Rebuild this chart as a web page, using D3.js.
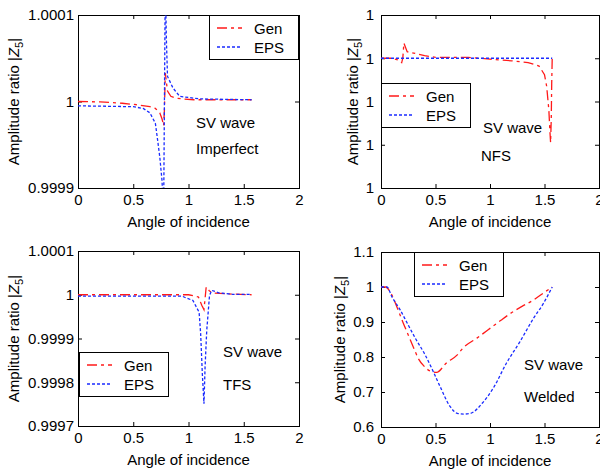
<!DOCTYPE html>
<html>
<head>
<meta charset="utf-8">
<script src="https://cdn.jsdelivr.net/npm/d3@7"></script>
<style>
  html, body { margin: 0; padding: 0; background: #fff; }
  svg { display: block; font-family: "Liberation Sans", Arial, sans-serif; }
</style>
</head>
<body>
<svg id="chart" width="600" height="471"></svg>
<script>
// Incidence angle axis (radians)
const angleTicks = [0, 0.5, 1, 1.5, 2];

// SV wave, imperfect interface
const imperfectGenX = [0, 0.2, 0.4, 0.55, 0.65, 0.7, 0.74, 0.76, 0.775, 0.782, 0.79, 0.81, 0.84, 0.88, 0.95, 1.05, 1.2, 1.4, 1.5708];
const imperfectGenY = [1.0, 0.9999995, 0.999998, 0.999996, 0.999994, 0.999992, 0.999987, 0.99998, 0.999972, 0.99999, 1.000033, 1.000012, 1.000006, 1.000004, 1.000003, 1.000002, 1.000002, 1.000002, 1.000002];
const imperfectEpsX = [0, 0.5, 0.59, 0.65, 0.7, 0.72, 0.74, 0.76, 0.775, 0.79, 0.8, 0.81, 0.86, 0.92, 1.1, 1.5708];
const imperfectEpsY = [0.999995, 0.999994, 0.999992, 0.999987, 0.999975, 0.999956, 0.999936, 0.999909, 0.99987, 1.00014, 1.000071, 1.000029, 1.0000155, 1.000006, 1.000003, 1.000002];
const imperfectTicks = [0.9999, 1, 1.0001];

// SV wave, normal force stiffness
const nfsGenX = [0, 0.1, 0.17, 0.19, 0.2, 0.21, 0.24, 0.3, 0.4, 0.5, 0.8, 1.0, 1.2, 1.35, 1.45, 1.5, 1.52, 1.54, 1.55, 1.556, 1.562, 1.566, 1.5708];
const nfsGenY = [1.000003, 1.000003, 1.00000295, 1.0000029, 1.000003, 1.00000335, 1.00000315, 1.00000312, 1.00000306, 1.00000302, 1.00000302, 1.00000298, 1.00000294, 1.0000029, 1.00000282, 1.00000262, 1.00000235, 1.0000018, 1.0000013, 1.00000105, 1.0000016, 1.0000024, 1.000003];
const nfsEpsX = [0, 0.5, 1.0, 1.5, 1.55, 1.5708];
const nfsEpsY = [1.000003, 1.000003, 1.000003, 1.000003, 1.000003, 1.000003];
const nfsTicks = [1, 1.000001, 1.000002, 1.000003, 1.000004];

// SV wave, transverse force stiffness
const tfsGenX = [0, 0.5, 1.0, 1.09, 1.12, 1.14, 1.16, 1.19, 1.23, 1.4, 1.5708];
const tfsGenY = [1.0, 1.0, 1.0, 0.999995, 0.999976, 0.999966, 1.0000175, 1.0000084, 1.000004, 1.0000015, 1.0];
const tfsEpsX = [0, 0.5, 0.94, 0.98, 1.04, 1.096, 1.11, 1.125, 1.14, 1.15, 1.165, 1.19, 1.21, 1.28, 1.4, 1.5708];
const tfsEpsY = [0.999997, 0.999997, 0.999997, 0.9999925, 0.999987, 0.99996, 0.999911, 0.99982, 0.999751, 0.999835, 0.999918, 0.999998, 1.00001, 1.000004, 1.000001, 1.000001];
const tfsTicks = [0.9997, 0.9998, 0.9999, 1, 1.0001];

// SV wave, welded contact
const weldedGenX = [0, 0.04, 0.1, 0.15, 0.2, 0.25, 0.3, 0.34, 0.4, 0.45, 0.51, 0.6, 0.7, 0.75, 0.88, 0.98, 1.1, 1.2, 1.29, 1.4, 1.5, 1.5708];
const weldedGenY = [1.0, 1.0, 0.977, 0.94, 0.90, 0.863, 0.826, 0.797, 0.772, 0.76, 0.756, 0.783, 0.806, 0.825, 0.854, 0.877, 0.905, 0.927, 0.944, 0.963, 0.985, 1.0];
const weldedEpsX = [0, 0.055, 0.1, 0.177, 0.24, 0.314, 0.405, 0.48, 0.543, 0.635, 0.7, 0.76, 0.82, 0.94, 1.03, 1.15, 1.275, 1.4, 1.49, 1.5708];
const weldedEpsY = [1.0, 1.0, 0.972, 0.934, 0.897, 0.854, 0.806, 0.758, 0.715, 0.658, 0.639, 0.637, 0.639, 0.672, 0.711, 0.782, 0.844, 0.911, 0.953, 1.0];
const weldedTicks = [0.6, 0.7, 0.8, 0.9, 1, 1.1];

const seriesNames = ["Gen", "EPS"];
const seriesColors = ["#ff1a1a", "#1a2bff"];
const seriesDash = ["10,4,3,4", "3,2"];

const panels = [
  { id: "imp", box: [78, 15, 299, 188], ticks: imperfectTicks, gen: [imperfectGenX, imperfectGenY], eps: [imperfectEpsX, imperfectEpsY],
    labels: ["SV wave", "Imperfect"], labelPos: [[196, 128], [196, 154]], legend: [209, 15], ylabX: 13, tickGap: 4, curve: d3.curveLinear },
  { id: "nfs", box: [381, 15, 599, 188], ticks: nfsTicks, gen: [nfsGenX, nfsGenY], eps: [nfsEpsX, nfsEpsY],
    labels: ["SV wave", "NFS"], labelPos: [[483, 133], [481, 161]], legend: [381, 83], ylabX: 352, tickGap: 7, curve: d3.curveLinear },
  { id: "tfs", box: [78, 251, 299, 426], ticks: tfsTicks, gen: [tfsGenX, tfsGenY], eps: [tfsEpsX, tfsEpsY],
    labels: ["SV wave", "TFS"], labelPos: [[223, 357], [223, 390]], legend: [79, 352], ylabX: 13, tickGap: 4, curve: d3.curveLinear },
  { id: "wel", box: [381, 252, 599, 427], ticks: weldedTicks, gen: [weldedGenX, weldedGenY], eps: [weldedEpsX, weldedEpsY],
    labels: ["SV wave", "Welded"], labelPos: [[524, 370], [524, 402]], legend: [414, 252], ylabX: 339, tickGap: 7, curve: d3.curveMonotoneX }
];

const svg = d3.select("#chart");
const fmt = d3.format("~g");
const FS = 15;
const LW = 1.3;

panels.forEach(p => {
  const [l, t, r, b] = p.box;
  const x = d3.scaleLinear().domain([angleTicks[0], angleTicks[angleTicks.length - 1]]).range([l, r]);
  const y = d3.scaleLinear().domain([p.ticks[0], p.ticks[p.ticks.length - 1]]).range([b, t]);
  const g = svg.append("g");

  g.append("clipPath").attr("id", "clip-" + p.id)
    .append("rect").attr("x", l).attr("y", t).attr("width", r - l).attr("height", b - t);

  // axes: ticks point inward on all four sides
  const tl = 4;
  const bottomAxis = d3.axisBottom(x).tickValues(angleTicks).tickFormat(fmt).tickSizeInner(-tl).tickSizeOuter(0).tickPadding(6);
  const topAxis = d3.axisTop(x).tickValues(angleTicks).tickFormat("").tickSizeInner(-tl).tickSizeOuter(0);
  const leftAxis = d3.axisLeft(y).tickValues(p.ticks).tickFormat(fmt).tickSizeInner(-tl).tickSizeOuter(0).tickPadding(p.tickGap);
  const rightAxis = d3.axisRight(y).tickValues(p.ticks).tickFormat("").tickSizeInner(-tl).tickSizeOuter(0);

  const ax = [
    g.append("g").attr("transform", `translate(0,${b})`).call(bottomAxis),
    g.append("g").attr("transform", `translate(0,${t})`).call(topAxis),
    g.append("g").attr("transform", `translate(${l},0)`).call(leftAxis),
    g.append("g").attr("transform", `translate(${r},0)`).call(rightAxis)
  ];
  ax.forEach(a => {
    a.select(".domain").remove();
    a.selectAll("line").attr("stroke", "#000");
    a.selectAll("text").attr("font-size", FS).attr("fill", "#000")
      .attr("font-family", "'Liberation Sans', Arial, sans-serif");
  });

  g.append("rect").attr("x", l + 0.5).attr("y", t + 0.5).attr("width", r - l).attr("height", b - t)
    .attr("fill", "none").attr("stroke", "#000").attr("stroke-width", 1);

  // series
  [p.gen, p.eps].forEach((s, i) => {
    const pts = s[0].map((v, k) => [v, s[1][k]]);
    const line = d3.line().x(d => x(d[0])).y(d => y(d[1])).curve(p.curve);
    g.append("path").attr("d", line(pts))
      .attr("clip-path", `url(#clip-${p.id})`)
      .attr("fill", "none").attr("stroke", seriesColors[i])
      .attr("stroke-width", LW).attr("stroke-dasharray", seriesDash[i]);
  });

  // axis titles
  g.append("text").attr("x", (l + r) / 2).attr("y", b + 39)
    .attr("text-anchor", "middle").attr("font-size", FS).text("Angle of incidence");

  const yl = g.append("text")
    .attr("transform", `translate(${p.ylabX + 6},${(t + b) / 2}) rotate(-90)`)
    .attr("text-anchor", "middle").attr("font-size", FS);
  yl.append("tspan").text("Amplitude ratio |");
  yl.append("tspan").attr("font-style", "italic").text("Z");
  yl.append("tspan").attr("font-size", 11).attr("dy", 4).text("5");
  yl.append("tspan").attr("dy", -4).text("|");

  // annotations
  p.labels.forEach((txt, i) => {
    g.append("text").attr("x", p.labelPos[i][0]).attr("y", p.labelPos[i][1])
      .attr("font-size", FS).text(txt);
  });

  // legend
  const [lx, ly] = p.legend;
  const lg = g.append("g");
  lg.append("rect").attr("x", lx + 0.5).attr("y", ly + 0.5).attr("width", 89).attr("height", 44)
    .attr("fill", "#fff").attr("stroke", "#000");
  seriesNames.forEach((name, i) => {
    const ry = ly + 13 + i * 19;
    lg.append("line").attr("x1", lx + 8).attr("x2", lx + 33).attr("y1", ry).attr("y2", ry)
      .attr("stroke", seriesColors[i]).attr("stroke-width", LW).attr("stroke-dasharray", seriesDash[i]);
    lg.append("text").attr("x", lx + 45).attr("y", ry + 5.5).attr("font-size", FS).text(name);
  });
});
</script>
</body>
</html>
